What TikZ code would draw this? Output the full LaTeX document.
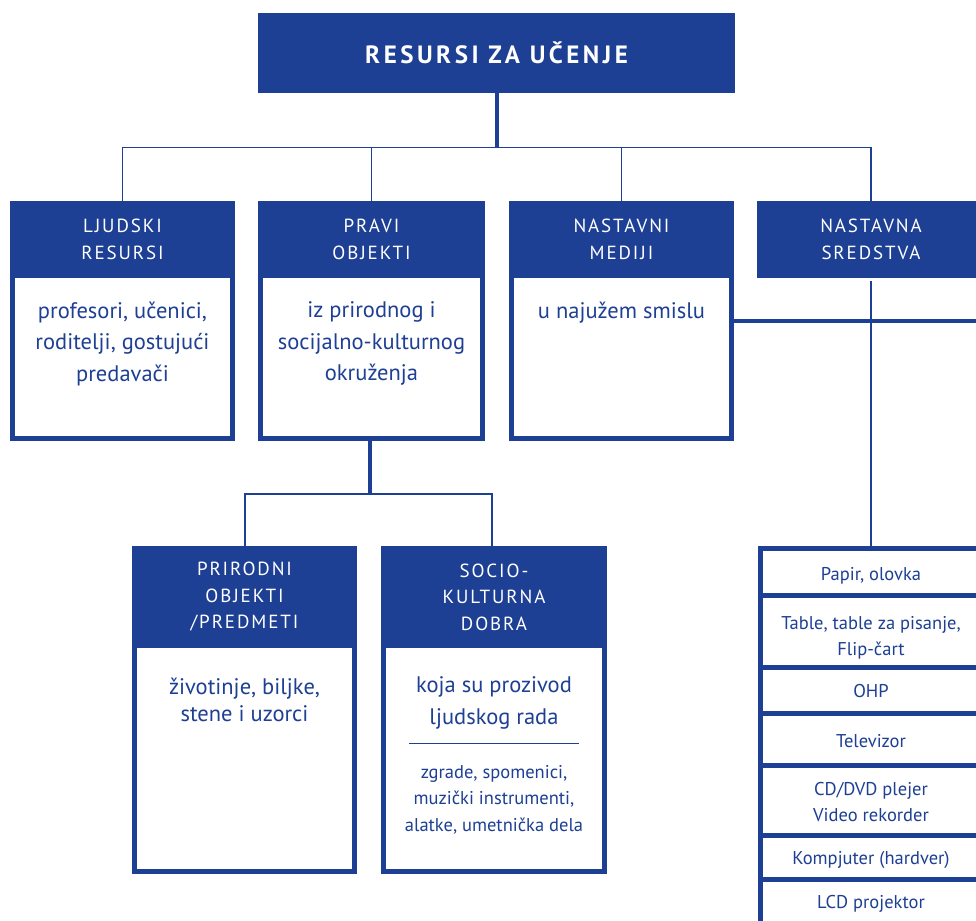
\documentclass[tikz,border=0pt]{standalone}
\usepackage{fontspec}
\setmainfont{PT Sans}
\newfontfamily\hdrfont[LetterSpace=10]{PT Sans}
\newfontfamily\ttlfont[LetterSpace=14]{PT Sans Bold}
\definecolor{bl}{RGB}{29,63,148}
\begin{document}
\begin{tikzpicture}[x=1pt,y=-1pt,
  hdr/.style={fill=bl, text=white, inner sep=0, outer sep=0, align=center,
    font=\hdrfont\fontsize{19}{26.5}\selectfont},
  ttl/.style={fill=bl, text=white, inner sep=0, outer sep=0,
    font=\ttlfont\fontsize{25}{28}\selectfont},
  bodybox/.style={draw=bl, line width=5pt, fill=white, inner sep=0, outer sep=0},
  bodytext/.style={text=bl, inner sep=0, outer sep=0, align=center,
    font=\fontsize{22.5}{31.5}\selectfont},
  celltext/.style={text=bl, align=center, font=\fontsize{18.5}{26}\selectfont},
  cell/.style={draw=bl, line width=5pt, fill=white, inner sep=0, outer sep=0,
    minimum width=222pt},
  thin/.style={draw=bl, line width=1.6pt},
  thick/.style={draw=bl, line width=4pt},
]
\useasboundingbox (0,0) rectangle (976,920);

% title
\node[ttl, minimum width=477pt, minimum height=80pt, anchor=north west] (t) at (258,13) {RESURSI ZA UČENJE};

% column 1
\node[hdr, minimum width=225pt, minimum height=77pt, anchor=north west] (h1) at (10,201) {LJUDSKI\\RESURSI};
\node[bodybox, minimum width=220pt, minimum height=163pt] (w1) at (122.5,357) {};
\node[bodytext, anchor=north] (x1) at (122.5,302) {profesori, učenici,\\roditelji, gostujući\\predavači};

% column 2
\node[hdr, minimum width=227pt, minimum height=77pt, anchor=north west] (h2) at (258,201) {PRAVI\\OBJEKTI};
\node[bodybox, minimum width=222pt, minimum height=163pt] (w2) at (371.5,357) {};
\node[bodytext, anchor=north] (x2) at (371.5,302) {iz prirodnog i\\socijalno-kulturnog\\okruženja};

% column 3
\node[hdr, minimum width=225pt, minimum height=77pt, anchor=north west] (h3) at (509,201) {NASTAVNI\\MEDIJI};
\node[bodybox, minimum width=220pt, minimum height=163pt] (w3) at (621.5,357) {};
\node[bodytext, anchor=north] (x3) at (621.5,302) {u najužem smislu};

% column 4
\node[hdr, minimum width=228pt, minimum height=77pt, anchor=north west] (h4) at (757,201) {NASTAVNA\\SREDSTVA};
\coordinate (h4b) at (871,281);

% lower boxes
\node[hdr, minimum width=225pt, minimum height=102pt, anchor=north west] (h5) at (132,546) {PRIRODNI\\OBJEKTI\\/PREDMETI};
\node[bodybox, minimum width=220pt, minimum height=226pt] (w5) at (244.5,758.5) {};
\node[bodytext, anchor=north, font=\fontsize{22.5}{27.5}\selectfont] (x5) at (244.5,678) {životinje, biljke,\\stene i uzorci};

\node[hdr, minimum width=226pt, minimum height=102pt, anchor=north west] (h6) at (381,546) {SOCIO-\\KULTURNA\\DOBRA};
\node[bodybox, minimum width=221pt, minimum height=226pt] (w6) at (494,758.5) {};
\node[bodytext, anchor=north] (x6) at (494,677) {koja su prozivod\\ljudskog rada};
\coordinate (s6a) at (409,743);
\coordinate (s6b) at (579,743);
\draw[bl, line width=1pt] (s6a) -- (s6b);
\node[bodytext, anchor=north, font=\fontsize{18.5}{26.5}\selectfont] (y6) at (494,765) {zgrade, spomenici,\\muzički instrumenti,\\alatke, umetnička dela};

% list of teaching aids
\node[cell, minimum height=47pt] (c1) at (871,571.5) {};
\node[cell, minimum height=72pt] (c2) at (871,631) {};
\node[cell, minimum height=46pt] (c3) at (871,690) {};
\node[cell, minimum height=52pt] (c4) at (871,739) {};
\node[cell, minimum height=70pt] (c5) at (871,800) {};
\node[cell, minimum height=44pt] (c6) at (871,857) {};
\node[cell, minimum height=46pt] (c7) at (871,902) {};
\node[celltext] at ([yshift=-4.5pt]c1) {Papir, olovka};
\node[celltext] at ([yshift=-6.5pt]c2) {Table, table za pisanje,\\Flip-čart};
\node[celltext] at ([yshift=-1pt]c3) {OHP};
\node[celltext] at ([yshift=-2pt]c4) {Televizor};
\node[celltext] at ([yshift=-2pt]c5) {CD/DVD plejer\\Video rekorder};
\node[celltext] at ([yshift=-3pt]c6) {Kompjuter (hardver)};
\node[celltext] at ([yshift=-2pt]c7) {LCD projektor};

% connectors
\coordinate (j0) at (497,147.5);
\draw[thick] (t.south -| j0) -- (j0);
\draw[thin] (h1.north) |- (j0) -| (h4.north);
\draw[thin] (h2.north) -- (h2.north |- j0);
\draw[thin] (h3.north) -- (h3.north |- j0);

\coordinate (j1) at (369.5,494);
\draw[thick] (w2.south -| j1) ++(0,-2) -- (j1);
\draw[thin] (h5.north -| 245,0) |- (j1) -| (h6.north -| 492,0);

\fill[bl] (h4.south west) rectangle ([yshift=4pt]h4.south east);
\draw[thin] (h4b) -- (c1.north);
\coordinate (r1) at (985,321);
\draw[thick] (w3.east |- r1) -- (r1);
\end{tikzpicture}
\end{document}
